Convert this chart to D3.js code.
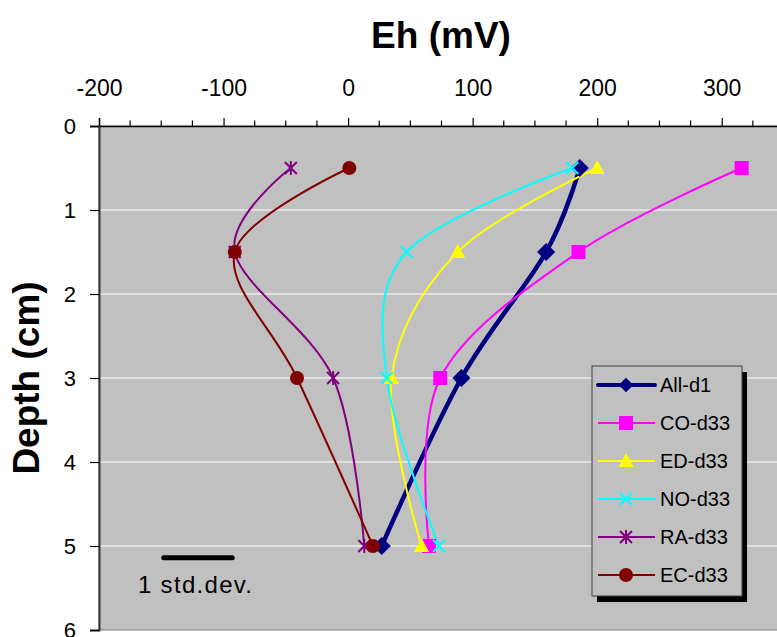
<!DOCTYPE html>
<html>
<head>
<meta charset="utf-8">
<script src="https://cdn.jsdelivr.net/npm/d3@7"></script>
<style>
  html, body { margin: 0; padding: 0; background: #fff; }
  svg { display: block; font-family: "Liberation Sans", Arial, sans-serif; }
</style>
</head>
<body>
<svg id="chart" width="777" height="637"></svg>
<script>
// ---- data ----
const depths = [0.5, 1.5, 3, 5];
const seriesNames = ["All-d1", "CO-d33", "ED-d33", "NO-d33", "RA-d33", "EC-d33"];
const allD1 = [186, 159, 91, 27];
const coD33 = [316, 185, 74, 65];
const edD33 = [200, 88, 35, 59];
const noD33 = [180, 47, 31, 73];
const raD33 = [-46, -91, -12, 13];
const ecD33 = [1, -91, -41, 20];
const xTickLabels = [-200, -100, 0, 100, 200, 300];
const yTickLabels = [0, 1, 2, 3, 4, 5, 6];
const stdDevStart = -148;
const stdDevLength = 55;
const stdDevDepth = 5.14;

const seriesValues = [allD1, coD33, edD33, noD33, raD33, ecD33];
const colors = ["#000080", "#FF00FF", "#FFFF00", "#00FFFF", "#800080", "#800000"];
const markers = ["diamond", "square", "triangle", "x", "asterisk", "circle"];
const widths = [4.5, 2, 2, 2, 2, 2];

const svg = d3.select("#chart");
const pL = 99, pT = 126, pR = 784, pB = 630;

const x = d3.scaleLinear().domain([-200, 350]).range([pL, pR]);
const y = d3.scaleLinear().domain([0, 6]).range([pT, pB]);
const fmt = d => String(d);

// plot background
svg.append("rect").attr("x", pL).attr("y", pT)
  .attr("width", pR - pL).attr("height", pB - pT)
  .attr("fill", "#C0C0C0").attr("stroke", "#808080").attr("stroke-width", 1);

// gridlines
svg.append("g").selectAll("line").data([1, 2, 3, 4, 5]).join("line")
  .attr("x1", pL).attr("x2", pR)
  .attr("y1", d => y(d)).attr("y2", d => y(d))
  .attr("stroke", "#FFFFFF").attr("stroke-width", 1.2);

// top axis
const xAxis = d3.axisTop(x).tickValues(xTickLabels).tickSize(8).tickPadding(22).tickFormat(fmt);
const gx = svg.append("g").attr("transform", `translate(0,${pT})`).call(xAxis);
gx.select(".domain").attr("stroke", "#000").attr("stroke-width", 1.5);
gx.selectAll(".tick line").attr("stroke", "#000").attr("stroke-width", 1.2);
gx.selectAll(".tick text").attr("font-size", 23).attr("fill", "#000")
  .attr("font-family", "Liberation Sans, Arial, sans-serif");
// minor ticks
const minor = d3.range(-175, 351, 25).filter(v => v % 100 !== 0);
svg.append("g").selectAll("line").data(minor).join("line")
  .attr("x1", d => x(d)).attr("x2", d => x(d))
  .attr("y1", pT - 5.5).attr("y2", pT)
  .attr("stroke", "#000").attr("stroke-width", 1.2);

// left axis
const yAxis = d3.axisLeft(y).tickValues(yTickLabels).tickSize(9).tickPadding(14).tickFormat(fmt);
const gy = svg.append("g").attr("transform", `translate(${pL},0)`).call(yAxis);
gy.select(".domain").attr("stroke", "#333").attr("stroke-width", 2);
gy.selectAll(".tick line").attr("stroke", "#000").attr("stroke-width", 1.2);
gy.selectAll(".tick text").attr("font-size", 22).attr("fill", "#000")
  .attr("font-family", "Liberation Sans, Arial, sans-serif");

// titles
svg.append("text").attr("x", 441).attr("y", 48).attr("text-anchor", "middle")
  .attr("font-size", 37).attr("font-weight", "bold").text("Eh (mV)");
svg.append("text").attr("transform", `translate(39,${y(3)}) rotate(-90)`)
  .attr("text-anchor", "middle").attr("font-size", 37).attr("font-weight", "bold").text("Depth (cm)");

// marker drawing
function drawMarker(g, type, color, legend) {
  const s = legend ? 0.8 : 1;
  switch (type) {
    case "diamond":
      g.append("path").attr("d", d3.symbol(d3.symbolSquare, 165 * s * s)())
        .attr("transform", "rotate(45)").attr("fill", color);
      break;
    case "square":
      g.append("rect").attr("x", -7).attr("y", -7).attr("width", 14).attr("height", 14).attr("fill", color);
      break;
    case "triangle":
      g.append("path").attr("d", "M0,-8 L7.5,6 L-7.5,6 Z").attr("fill", color);
      break;
    case "x":
      g.append("path").attr("d", "M-6,-6 L6,6 M-6,6 L6,-6").attr("stroke", color).attr("stroke-width", 2);
      break;
    case "asterisk":
      g.append("path").attr("d", "M-6,-6 L6,6 M-6,6 L6,-6 M0,-7 L0,7").attr("stroke", color).attr("stroke-width", 2);
      break;
    case "circle":
      g.append("circle").attr("r", 7).attr("fill", color);
      break;
  }
}

// series
const line = d3.line().x(d => x(d[0])).y(d => y(d[1])).curve(d3.curveCardinal.tension(0));
seriesValues.forEach((vals, i) => {
  const pts = vals.map((v, j) => [v, depths[j]]);
  svg.append("path").datum(pts).attr("d", line)
    .attr("fill", "none").attr("stroke", colors[i]).attr("stroke-width", widths[i])
    .attr("stroke-linejoin", "round");
});
seriesValues.forEach((vals, i) => {
  vals.forEach((v, j) => {
    const g = svg.append("g").attr("transform", `translate(${x(v)},${y(depths[j])})`);
    drawMarker(g, markers[i], colors[i], false);
  });
});

// std dev bar
svg.append("line")
  .attr("x1", x(stdDevStart)).attr("x2", x(stdDevStart + stdDevLength))
  .attr("y1", y(stdDevDepth)).attr("y2", y(stdDevDepth))
  .attr("stroke", "#000").attr("stroke-width", 5).attr("stroke-linecap", "round");
svg.append("text").attr("x", 138).attr("y", 593).attr("font-size", 24)
  .attr("textLength", 114).attr("lengthAdjust", "spacing").text("1 std.dev.");

// legend
const lg = svg.append("g");
lg.append("rect").attr("x", 597).attr("y", 372).attr("width", 150).attr("height", 230).attr("fill", "#000");
lg.append("rect").attr("x", 592).attr("y", 366).attr("width", 150).attr("height", 230)
  .attr("fill", "#C0C0C0").attr("stroke", "#404040").attr("stroke-width", 1);
seriesNames.forEach((name, i) => {
  const yy = 385 + i * 38;
  lg.append("line").attr("x1", 598).attr("x2", 655).attr("y1", yy).attr("y2", yy)
    .attr("stroke", colors[i]).attr("stroke-width", widths[i] === 2 ? 2 : 4)
    .attr("stroke-linecap", i === 0 ? "round" : "butt");
  const g = lg.append("g").attr("transform", `translate(626,${yy})`);
  drawMarker(g, markers[i], colors[i], true);
  lg.append("text").attr("x", 660).attr("y", yy + 7).attr("font-size", 20).text(name);
});
</script>
</body>
</html>
